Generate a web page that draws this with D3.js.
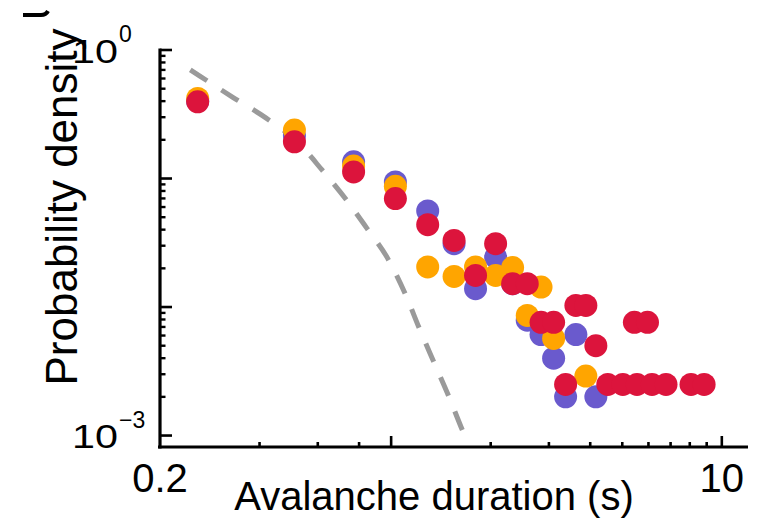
<!DOCTYPE html>
<html>
<head>
<meta charset="utf-8">
<script src="https://cdn.jsdelivr.net/npm/d3@7"></script>
<style>
  html, body { margin: 0; padding: 0; background: #fff; }
  svg { display: block; }
  text { font-family: "Liberation Sans", Arial, Helvetica, sans-serif; fill: #000; }
</style>
</head>
<body>
<svg id="chart" width="761" height="520"></svg>
<script>
// Avalanche duration distributions (three recordings) on log–log axes
const purpleDuration = [0.26, 0.51, 0.77, 1.03, 1.29, 1.55, 1.8, 2.07, 2.33, 2.58, 2.84, 3.1, 3.37, 3.62, 4.16];
const purpleDensity  = [0.40, 0.215, 0.135, 0.094, 0.056, 0.0311, 0.0139, 0.0245, 0.0152, 0.0079, 0.0061, 0.0040, 0.0020, 0.0061, 0.0020];

const orangeDuration = [0.26, 0.51, 0.77, 1.03, 1.29, 1.55, 1.8, 2.07, 2.33, 2.58, 2.84, 3.1, 3.88];
const orangeDensity  = [0.42, 0.238, 0.125, 0.087, 0.0205, 0.0173, 0.0205, 0.0176, 0.0203, 0.0086, 0.0143, 0.0057, 0.0029];

const redDuration = [0.26, 0.51, 0.77, 1.03, 1.29, 1.55, 1.8, 2.07, 2.33, 2.58, 2.84, 3.1, 3.37, 3.62, 3.88, 4.16,
                     4.52, 5.02, 5.44, 5.54, 5.96, 6.15, 6.78, 8.07, 8.84];
const redDensity  = [0.395, 0.193, 0.1125, 0.0698, 0.0437, 0.033, 0.0176, 0.0311, 0.0152, 0.0152, 0.0076, 0.0076, 0.0025, 0.0103, 0.0103, 0.0050,
                     0.0025, 0.0025, 0.0076, 0.0025, 0.0076, 0.0025, 0.0025, 0.0025, 0.0025];

// Reference (shuffled-data) curve, dashed grey
const refDuration = [0.247, 0.264, 0.333, 0.419, 0.52, 0.619, 0.732, 0.847, 0.968, 1.105, 1.219, 1.344, 1.49, 1.645, 1.68];
const refDensity  = [0.70, 0.627, 0.4265, 0.295, 0.1935, 0.116, 0.0683, 0.0406, 0.0248, 0.01254, 0.00675, 0.00377, 0.00205, 0.00109, 0.00096];

// Axis ticks and labels
const xMajorTicks = [1, 10];
const xMinorTicks = [0.4, 0.6, 0.8, 2, 3, 4, 5, 6, 7, 8, 9];
const xTickLabels = [{ v: 0.2, t: "0.2" }, { v: 10, t: "10" }];
const yMajorTicks = [1, 0.1, 0.01, 0.001];
const yTickLabels = [{ v: 1, exp: "0" }, { v: 0.001, exp: "\u22123" }];
const xTitle = "Avalanche duration (s)";
const yTitle = "Probability density";

const seriesColors = { purple: "#6a5acd", orange: "#ffa500", red: "#dc143c" };

const svg = d3.select("#chart");

const x = d3.scaleLog().domain([0.2, 12]).range([160, 748]);
const y = d3.scaleLog().domain([8e-4, 1]).range([448, 50]);

// y minor ticks: 2..9 in every decade from 1e-3 to 1
const yMinorTicks = [];
[0.001, 0.01, 0.1].forEach(d => { for (let m = 2; m <= 9; m++) yMinorTicks.push(+(d * m).toPrecision(3)); });

// Dashed reference curve
const line = d3.line()
  .x((d, i) => x(refDuration[i]))
  .y((d, i) => y(refDensity[i]))
  .curve(d3.curveMonotoneX);
svg.append("path")
  .datum(refDuration)
  .attr("d", line)
  .attr("fill", "none")
  .attr("stroke", "#9a9a9a")
  .attr("stroke-width", 5)
  .attr("stroke-dasharray", "20 17");

// Scatter series, drawn purple, orange, then red on top
function drawSeries(dur, dens, color) {
  svg.append("g").selectAll("circle")
    .data(dur.map((d, i) => ({ d, p: dens[i] })))
    .join("circle")
    .attr("cx", o => x(o.d))
    .attr("cy", o => y(o.p))
    .attr("r", 11.5)
    .attr("fill", color);
}
drawSeries(purpleDuration, purpleDensity, seriesColors.purple);
drawSeries(orangeDuration, orangeDensity, seriesColors.orange);
drawSeries(redDuration, redDensity, seriesColors.red);

// Axes (ticks point inward)
const axes = svg.append("g").attr("stroke", "#000").attr("stroke-linecap", "butt");
const x0 = x(0.2), yBase = 447;
axes.append("line").attr("x1", x0 - 2).attr("x2", 748).attr("y1", yBase).attr("y2", yBase).attr("stroke-width", 3.2);
axes.append("line").attr("x1", x0).attr("x2", x0).attr("y1", 48.5).attr("y2", yBase + 1.5).attr("stroke-width", 3.2);

axes.selectAll(".xmaj").data(xMajorTicks).join("line")
  .attr("x1", d => x(d)).attr("x2", d => x(d)).attr("y1", yBase).attr("y2", yBase - 11).attr("stroke-width", 2.6);
axes.selectAll(".xmin").data(xMinorTicks).join("line")
  .attr("x1", d => x(d)).attr("x2", d => x(d)).attr("y1", yBase).attr("y2", yBase - 5).attr("stroke-width", 2.6);
axes.selectAll(".ymaj").data(yMajorTicks).join("line")
  .attr("x1", x0).attr("x2", x0 + 12).attr("y1", d => y(d)).attr("y2", d => y(d)).attr("stroke-width", 2.6);
axes.selectAll(".ymin").data(yMinorTicks).join("line")
  .attr("x1", x0).attr("x2", x0 + 5.5).attr("y1", d => y(d)).attr("y2", d => y(d)).attr("stroke-width", 2.4);

// Tick labels
svg.selectAll(".xlab").data(xTickLabels).join("text")
  .attr("x", d => x(d.v)).attr("y", 492)
  .attr("text-anchor", "middle").attr("font-size", 40)
  .text(d => d.t);

const ylab = svg.selectAll(".ylab").data(yTickLabels).join("g");
ylab.append("text")
  .attr("x", 72).attr("y", d => y(d.v) + 12.5)
  .attr("font-size", 34)
  .attr("textLength", 46).attr("lengthAdjust", "spacingAndGlyphs")
  .text("10");
ylab.append("text")
  .attr("x", 119).attr("y", d => y(d.v) - 8)
  .attr("text-anchor", "start").attr("font-size", 23)
  .text(d => d.exp);

// Axis titles
svg.append("text")
  .attr("x", 434).attr("y", 510)
  .attr("text-anchor", "middle").attr("font-size", 40)
  .text(xTitle);
svg.append("text")
  .attr("transform", "translate(77,207) rotate(-90)")
  .attr("text-anchor", "middle").attr("font-size", 44)
  .text(yTitle);

// Cropped panel-letter fragment in the top-left corner
svg.append("path")
  .attr("d", "M23,15 L41,15 Q46,15 48,11")
  .attr("fill", "none").attr("stroke", "#000").attr("stroke-width", 4);
</script>
</body>
</html>
